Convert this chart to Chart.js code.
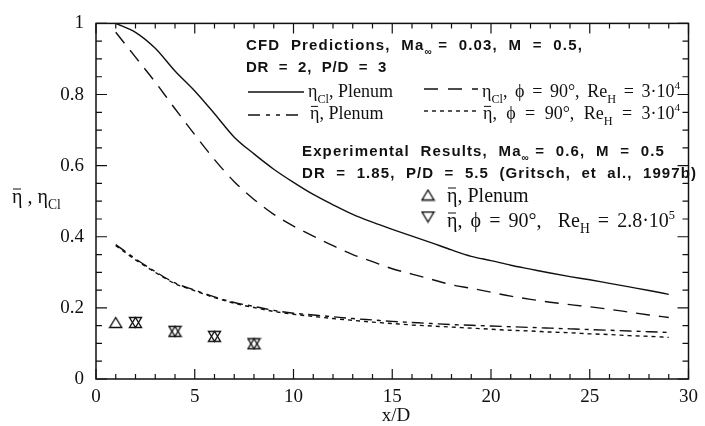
<!DOCTYPE html>
<html>
<head>
<meta charset="utf-8">
<script src="https://cdn.jsdelivr.net/npm/chart.js@4.4.1/dist/chart.umd.min.js"></script>
<style>
  html, body { margin: 0; padding: 0; background: #fff; }
  #wrap { width: 705px; height: 426px; }
</style>
</head>
<body>
<div id="wrap"><canvas id="effChart" width="705" height="426"></canvas></div>
<script>
// CFD predictions, x/D = 1..29
const xCfd = [1,2,3,4,5,6,7,8,9,10,11,12,13,14,15,16,17,18,19,20,21,22,23,24,25,26,27,28,29];
const etaClPlenum = [1.0,0.975,0.93,0.866,0.81,0.746,0.68,0.633,0.59,0.553,0.519,0.49,0.463,0.441,0.421,
  0.402,0.383,0.363,0.345,0.333,0.32,0.309,0.298,0.288,0.279,0.269,0.259,0.249,0.238];
const etaClPhi90 = [0.975,0.905,0.835,0.76,0.687,0.617,0.555,0.505,0.463,0.43,0.402,0.375,0.35,0.33,0.31,
  0.295,0.28,0.265,0.255,0.244,0.233,0.224,0.216,0.209,0.203,0.196,0.188,0.18,0.173];
const etaBarPlenum = [0.378,0.338,0.302,0.27,0.25,0.231,0.215,0.204,0.193,0.185,0.18,0.175,0.17,0.166,0.162,
  0.159,0.156,0.153,0.151,0.149,0.147,0.145,0.143,0.141,0.139,0.137,0.135,0.133,0.131];
const etaBarPhi90 = [0.375,0.335,0.3,0.268,0.248,0.229,0.213,0.201,0.19,0.182,0.176,0.17,0.165,0.16,0.156,
  0.152,0.149,0.146,0.143,0.14,0.137,0.135,0.132,0.13,0.127,0.125,0.122,0.12,0.117];

// Experimental results (Gritsch et al., 1997b)
const xExpPlenum = [1,2,4,6,8];
const expPlenum = [0.159,0.159,0.134,0.12,0.099];
const xExpPhi90 = [2,4,6,8];
const expPhi90 = [0.159,0.134,0.12,0.099];

const xTicks = [0,5,10,15,20,25,30];
const yTicks = [0,0.2,0.4,0.6,0.8,1];

const serif = '"Liberation Serif", "Times New Roman", serif';
const sans = '"Liberation Sans", Arial, sans-serif';
const ink = '#111';

function pts(xs, ys) { return xs.map((x, i) => ({ x: x, y: ys[i] })); }

// open triangles centred on their bounding box
function triangle(down) {
  const c = document.createElement('canvas');
  c.width = 15; c.height = 13;
  const g = c.getContext('2d');
  g.strokeStyle = ink; g.lineWidth = 1.4;
  g.beginPath();
  if (down) { g.moveTo(1.5, 1.5); g.lineTo(13.5, 1.5); g.lineTo(7.5, 11.5); }
  else { g.moveTo(7.5, 1.5); g.lineTo(13.5, 11.5); g.lineTo(1.5, 11.5); }
  g.closePath(); g.stroke();
  return c;
}
const triUp = triangle(false);
const triDown = triangle(true);

// text with subscripts, superscripts and overbars; optional target width,
// reached by spreading letters ('letter') or only the spaces ('word')
function rich(c, x, y, parts, size, fam, bold, target, mode) {
  const fontFor = p => {
    let fs = size;
    if (p.sub) fs = size * 0.68;
    if (p.sup) fs = size * 0.62;
    return (bold ? 'bold ' : '') + fs + 'px ' + fam;
  };
  c.letterSpacing = '0px';
  c.wordSpacing = '0px';
  if (target) {
    let w = 0, n = 0;
    for (const p of parts) {
      c.font = fontFor(p);
      w += c.measureText(p.t).width;
      n += mode === 'word' ? (p.t.match(/ /g) || []).length : [...p.t].length;
    }
    const extra = n ? (target - w) / n : 0;
    if (mode === 'word') c.wordSpacing = extra + 'px';
    else c.letterSpacing = extra + 'px';
  }
  let cx = x;
  for (const p of parts) {
    let dy = 0;
    if (p.sub) dy = size * 0.32;
    if (p.sup) dy = -size * 0.42;
    c.font = fontFor(p);
    c.fillText(p.t, cx, y + dy);
    const w = c.measureText(p.t).width;
    if (p.bar) {
      c.beginPath(); c.lineWidth = 1;
      c.moveTo(cx + 1, y - size * 0.7); c.lineTo(cx + size * 0.45, y - size * 0.7); c.stroke();
    }
    cx += w;
  }
  c.letterSpacing = '0px';
  c.wordSpacing = '0px';
  return cx;
}

function sample(c, x1, x2, y, dash) {
  c.save();
  c.beginPath(); c.lineWidth = 1.4; c.setLineDash(dash);
  c.moveTo(x1, y); c.lineTo(x2, y); c.stroke();
  c.restore();
}

const frame = {
  id: 'frame',
  afterDatasetsDraw(chart) {
    const c = chart.ctx, a = chart.chartArea;
    const xs = chart.scales.x, ys = chart.scales.y;
    c.save();
    c.strokeStyle = ink; c.fillStyle = ink;
    c.lineWidth = 1.5;
    c.strokeRect(a.left, a.top, a.right - a.left, a.bottom - a.top);
    c.lineWidth = 1.2;
    c.beginPath();
    for (let v = 0; v <= 30; v += 1) {
      const px = xs.getPixelForValue(v), len = v % 5 === 0 ? 10 : 5;
      c.moveTo(px, a.bottom); c.lineTo(px, a.bottom - len);
      c.moveTo(px, a.top); c.lineTo(px, a.top + len);
    }
    for (let k = 0; k <= 20; k++) {
      const py = ys.getPixelForValue(k * 0.05), len = k % 4 === 0 ? 11 : 6;
      c.moveTo(a.left, py); c.lineTo(a.left + len, py);
      c.moveTo(a.right, py); c.lineTo(a.right - len, py);
    }
    c.stroke();

    // axis titles
    c.textBaseline = 'alphabetic';
    c.textAlign = 'left';
    rich(c, 12, 203, [{ t: 'η', bar: true }, { t: ' , η' }, { t: 'Cl', sub: true }], 20, serif, false, 56, 'word');
    c.textAlign = 'center';
    c.font = '19px ' + serif;
    c.fillText('x/D', 396, 421);
    c.textAlign = 'left';

    // legend: CFD predictions
    rich(c, 246, 50, [{ t: 'CFD  Predictions,  Ma' }, { t: '∞', sub: true }, { t: ' =  0.03,  M  =  0.5,' }], 15, sans, true, 337);
    rich(c, 246, 72, [{ t: 'DR  =  2,  P/D  =  3' }], 15, sans, true, 141);

    sample(c, 248, 304, 92, []);
    rich(c, 308, 97, [{ t: 'η' }, { t: 'Cl', sub: true }, { t: ', Plenum' }], 18, serif);
    sample(c, 424, 478, 89, [14, 10]);
    rich(c, 482, 97, [{ t: 'η' }, { t: 'Cl', sub: true }, { t: ', ϕ = 90°, Re' }, { t: 'H', sub: true },
      { t: ' = 3·10' }, { t: '4', sup: true }], 18, serif, false, 198, 'word');

    sample(c, 248, 304, 115, [12, 6, 4, 6, 4, 6]);
    rich(c, 310, 119, [{ t: 'η', bar: true }, { t: ', Plenum' }], 18, serif);
    sample(c, 424, 479, 111, [4, 4]);
    rich(c, 483, 119, [{ t: 'η', bar: true }, { t: ', ϕ = 90°, Re' }, { t: 'H', sub: true },
      { t: ' = 3·10' }, { t: '4', sup: true }], 18, serif, false, 197, 'word');

    // legend: experimental results
    rich(c, 302, 156, [{ t: 'Experimental  Results,  Ma' }, { t: '∞', sub: true }, { t: ' =  0.6,  M  =  0.5' }], 15, sans, true, 363);
    rich(c, 302, 178, [{ t: 'DR  =  1.85,  P/D  =  5.5  (Gritsch,  et  al.,  1997b)' }], 15, sans, true, 395);
    c.drawImage(triUp, 428 - 7.5, 195 - 6.5);
    rich(c, 447, 202, [{ t: 'η', bar: true }, { t: ', Plenum' }], 20, serif);
    c.drawImage(triDown, 428 - 7.5, 217 - 6.5);
    rich(c, 447, 227, [{ t: 'η', bar: true }, { t: ', ϕ = 90°,  Re' }, { t: 'H', sub: true },
      { t: ' = 2.8·10' }, { t: '5', sup: true }], 20, serif, false, 228, 'word');
    c.restore();
  }
};

const ctx = document.getElementById('effChart').getContext('2d');
const lineBase = { showLine: true, borderColor: ink, borderWidth: 1.4, pointRadius: 0, cubicInterpolationMode: 'monotone', fill: false };

new Chart(ctx, {
  type: 'scatter',
  data: {
    datasets: [
      Object.assign({ label: 'eta_Cl, Plenum', data: pts(xCfd, etaClPlenum) }, lineBase),
      Object.assign({ label: 'eta_Cl, phi = 90', data: pts(xCfd, etaClPhi90), borderDash: [14, 9] }, lineBase),
      Object.assign({ label: 'eta_bar, Plenum', data: pts(xCfd, etaBarPlenum), borderDash: [12, 5, 4, 5] }, lineBase),
      Object.assign({ label: 'eta_bar, phi = 90', data: pts(xCfd, etaBarPhi90), borderDash: [4, 4] }, lineBase),
      { label: 'exp Plenum', data: pts(xExpPlenum, expPlenum), pointStyle: triUp, pointRadius: 7, showLine: false },
      { label: 'exp phi = 90', data: pts(xExpPhi90, expPhi90), pointStyle: triDown, pointRadius: 7, showLine: false }
    ]
  },
  options: {
    responsive: false,
    animation: false,
    devicePixelRatio: 1,
    layout: { padding: { left: 0, right: 11, top: 19, bottom: 0 } },
    plugins: { legend: { display: false }, tooltip: { enabled: false } },
    scales: {
      x: {
        type: 'linear', min: 0, max: 30,
        afterBuildTicks: s => { s.ticks = xTicks.map(v => ({ value: v })); },
        ticks: { color: ink, font: { family: serif, size: 19 }, padding: 7, maxRotation: 0 },
        grid: { display: false, drawTicks: false },
        border: { display: false },
        afterFit: s => { s.height = 47; }
      },
      y: {
        type: 'linear', min: 0, max: 1,
        afterBuildTicks: s => { s.ticks = yTicks.map(v => ({ value: v })); },
        ticks: { color: ink, font: { family: serif, size: 19 }, padding: 12, callback: v => String(+v.toFixed(1)) },
        grid: { display: false, drawTicks: false },
        border: { display: false },
        afterFit: s => { s.width = 96; }
      }
    }
  },
  plugins: [frame]
});
</script>
</body>
</html>
